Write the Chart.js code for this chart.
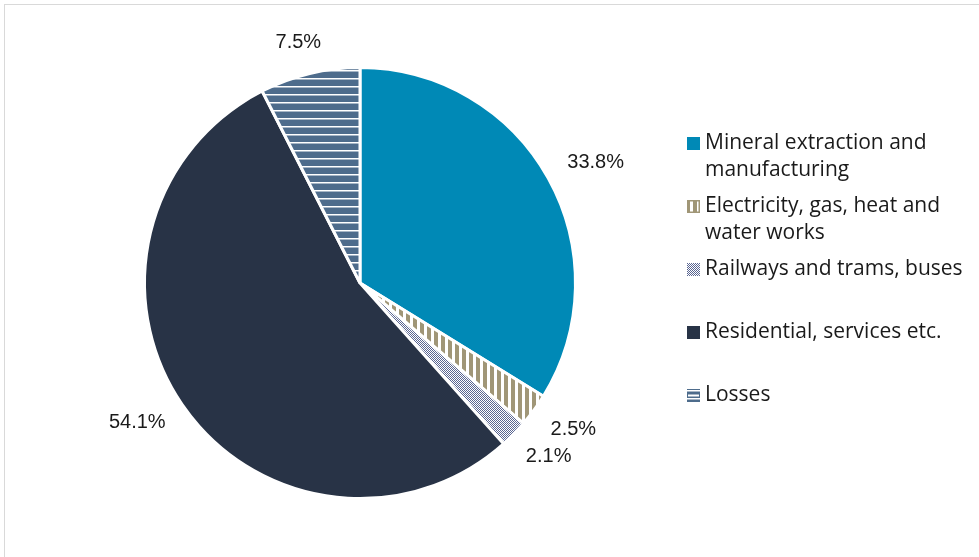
<!DOCTYPE html>
<html>
<head>
<meta charset="utf-8">
<script src="https://cdn.jsdelivr.net/npm/chart.js@4.4.1/dist/chart.umd.min.js"></script>
<style>
  body { margin: 0; background: #fff; }
  #wrap { position: relative; width: 979px; height: 557px; overflow: hidden; }
  #frame { position: absolute; left: 4px; top: 4px; width: 1000px; height: 600px; border: 1px solid #d9d9d9; }
  canvas { position: absolute; left: 0; top: 0; }
</style>
</head>
<body>
<div id="wrap">
  <div id="frame"></div>
  <canvas id="pie" width="979" height="557"></canvas>
</div>
<script>
// categories and shares (%)
var labels = [
  ['Mineral extraction and', 'manufacturing'],
  ['Electricity, gas, heat and', 'water works'],
  ['Railways and trams, buses'],
  ['Residential, services etc.'],
  ['Losses']
];
var shares = [33.8, 2.5, 2.1, 54.1, 7.5];

// fills: solid colours or small tiled patterns
function tile(w, h, paint) {
  var c = document.createElement('canvas');
  c.width = w; c.height = h;
  var g = c.getContext('2d');
  paint(g);
  return document.getElementById('pie').getContext('2d').createPattern(c, 'repeat');
}
var vStripes = tile(7, 7, function(g) {
  g.fillStyle = '#fff'; g.fillRect(0, 0, 7, 7);
  g.fillStyle = '#a09677'; g.fillRect(0, 0, 4, 7);
});
var checker = tile(2, 2, function(g) {
  g.fillStyle = '#fff'; g.fillRect(0, 0, 2, 2);
  g.fillStyle = '#5a6692'; g.fillRect(0, 0, 1, 1); g.fillRect(1, 1, 1, 1);
});
var hStripes = tile(8, 8, function(g) {
  g.fillStyle = '#4e6c8c'; g.fillRect(0, 0, 8, 8);
  g.fillStyle = '#fff'; g.fillRect(0, 6, 8, 1.5);
});
var fills = ['#0089b6', vStripes, checker, '#283346', hStripes];

// percentage labels just outside each slice
var outsideLabels = {
  id: 'outsideLabels',
  afterDatasetsDraw: function(chart) {
    var ctx = chart.ctx;
    ctx.save();
    ctx.font = '20px "Liberation Sans", Arial, sans-serif';
    ctx.fillStyle = '#1a1a1a';
    ctx.textAlign = 'center';
    ctx.textBaseline = 'middle';
    chart.getDatasetMeta(0).data.forEach(function(arc, i) {
      var txt = shares[i].toFixed(1) + '%';
      var mid = (arc.startAngle + arc.endAngle) / 2;
      var ux = Math.cos(mid), uy = Math.sin(mid);
      var d = arc.outerRadius + 20;
      var hw = ctx.measureText(txt).width / 2 + 6;
      ctx.fillText(txt, arc.x + ux * d + ux * hw, arc.y + uy * d + uy * 12);
    });
    ctx.restore();
  }
};

// legend on the right, one 63px slot per entry
var sideLegend = {
  id: 'sideLegend',
  afterDraw: function(chart) {
    var ctx = chart.ctx;
    ctx.save();
    ctx.font = '21px "Open Sans", sans-serif';
    ctx.textBaseline = 'middle';
    labels.forEach(function(lines, i) {
      var y = 143 + 63 * i;
      ctx.fillStyle = fills[i];
      ctx.fillRect(687, y - 6, 13, 13);
      if (i === 1) {
        ctx.strokeStyle = '#a09677'; ctx.lineWidth = 1.5;
        ctx.strokeRect(687.75, y - 5.25, 11.5, 11.5);
      }
      if (i === 4) {
        ctx.fillStyle = '#fff'; ctx.fillRect(688, y - 0.5, 11, 2);
      }
      ctx.fillStyle = '#1a1a1a';
      lines.forEach(function(line, k) {
        ctx.fillText(line, 705, y + 27 * k);
      });
    });
    ctx.restore();
  }
};

new Chart('pie', {
  type: 'pie',
  data: {
    labels: labels,
    datasets: [{
      data: shares,
      backgroundColor: fills,
      borderColor: '#fff',
      borderWidth: 3
    }]
  },
  options: {
    responsive: false,
    animation: false,
    layout: { padding: { left: 143, right: 402, top: 66, bottom: 57 } },
    plugins: {
      legend: { display: false },
      tooltip: { enabled: true }
    }
  },
  plugins: [outsideLabels, sideLegend]
});
</script>
</body>
</html>
